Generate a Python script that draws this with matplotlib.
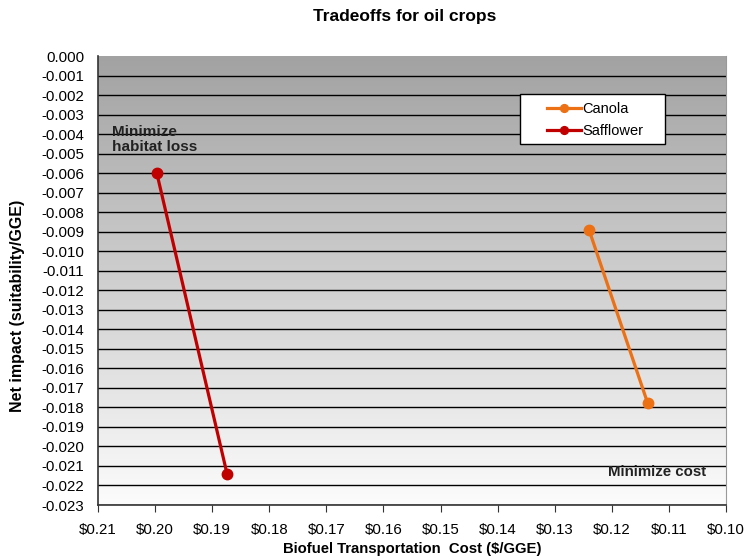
import numpy as np
import matplotlib.pyplot as plt
from matplotlib.patches import Rectangle
from matplotlib.colors import LinearSegmentedColormap

plt.rcParams['font.family'] = ['Liberation Sans', 'DejaVu Sans']

# Datos
canola_costo = [0.1240, 0.1137]
canola_impacto = [-0.0089, -0.0178]
safflower_costo = [0.1997, 0.1874]
safflower_impacto = [-0.0060, -0.0214]

x_ticks = [0.21, 0.20, 0.19, 0.18, 0.17, 0.16, 0.15, 0.14, 0.13, 0.12, 0.11, 0.10]
y_ticks = [-i / 1000 for i in range(0, 24)]

fig = plt.figure(figsize=(7.47, 5.6), dpi=100)
ax = fig.add_axes([0.1312, 0.0982, 0.8407, 0.8018])

# Fondo con degradado gris -> blanco
grad = np.linspace(0, 1, 256).reshape(-1, 1)
cmap = LinearSegmentedColormap.from_list('g', ['#a2a2a2', '#fcfcfc'])
ax.imshow(grad, cmap=cmap, aspect='auto', extent=[0, 1, 0, 1],
          transform=ax.transAxes, zorder=0)

ax.set_xlim(0.21, 0.10)
ax.set_ylim(-0.023, 0.0)
ax.set_xticks(x_ticks)
ax.set_xticklabels([f'${v:.2f}' for v in x_ticks])
ax.set_yticks(y_ticks)
ax.set_yticklabels([f'{v:.3f}' if v != 0 else '0.000' for v in y_ticks])

for y in y_ticks[1:]:
    ax.axhline(y, color='black', linewidth=1, zorder=1)

ax.plot(canola_costo, canola_impacto, color='#ec7014', marker='o', markersize=7.5,
        linewidth=2.3, label='Canola', zorder=3)
ax.plot(safflower_costo, safflower_impacto, color='#c00000', marker='o', markersize=7.5,
        linewidth=2.3, label='Safflower', zorder=3)

ax.text(0.2075, -0.0043, 'Minimize\nhabitat loss', fontsize=11, fontweight='bold',
        color='#222222', va='center', ha='left', linespacing=1.1)
ax.text(0.1035, -0.0213, 'Minimize cost', fontsize=10.8, fontweight='bold',
        color='#222222', va='center', ha='right')

# Recuadro de la leyenda
caja = Rectangle((520 / 747, 1 - 144 / 560), 145 / 747, 50 / 560,
                 transform=fig.transFigure, facecolor='white',
                 edgecolor='black', linewidth=1, zorder=4, clip_on=False)
ax.add_patch(caja)
leg = ax.legend(loc='center left', bbox_to_anchor=(547 / 747, 1 - 120 / 560),
                bbox_transform=fig.transFigure, fontsize=10.5, frameon=False,
                labelspacing=0.5, handlelength=2.3, borderpad=0, markerscale=0.75,
                borderaxespad=0, handletextpad=0.15)
leg.set_zorder(5)

for s in ['left', 'bottom']:
    ax.spines[s].set_color('#333333')
    ax.spines[s].set_linewidth(1.2)
ax.spines['top'].set_visible(False)
ax.spines['right'].set_color('#999999')

ax.tick_params(axis='both', labelsize=10.8, colors='#333333', labelcolor='black')
ax.tick_params(axis='y', length=0, pad=10)
ax.tick_params(axis='x', length=5, pad=8)

fig.text(405 / 747, 1 - 17 / 560, 'Tradeoffs for oil crops', fontsize=12.5,
         fontweight='bold', ha='center', va='center')
fig.text(412 / 747, 1 - 549 / 560, 'Biofuel Transportation  Cost ($/GGE)',
         fontsize=10.7, fontweight='bold', ha='center', va='center')
fig.text(18 / 747, 1 - 306 / 560, 'Net impact (suitability/GGE)', fontsize=11.5,
         fontweight='bold', ha='center', va='center', rotation=90)

fig.savefig('out.png', dpi=100)
